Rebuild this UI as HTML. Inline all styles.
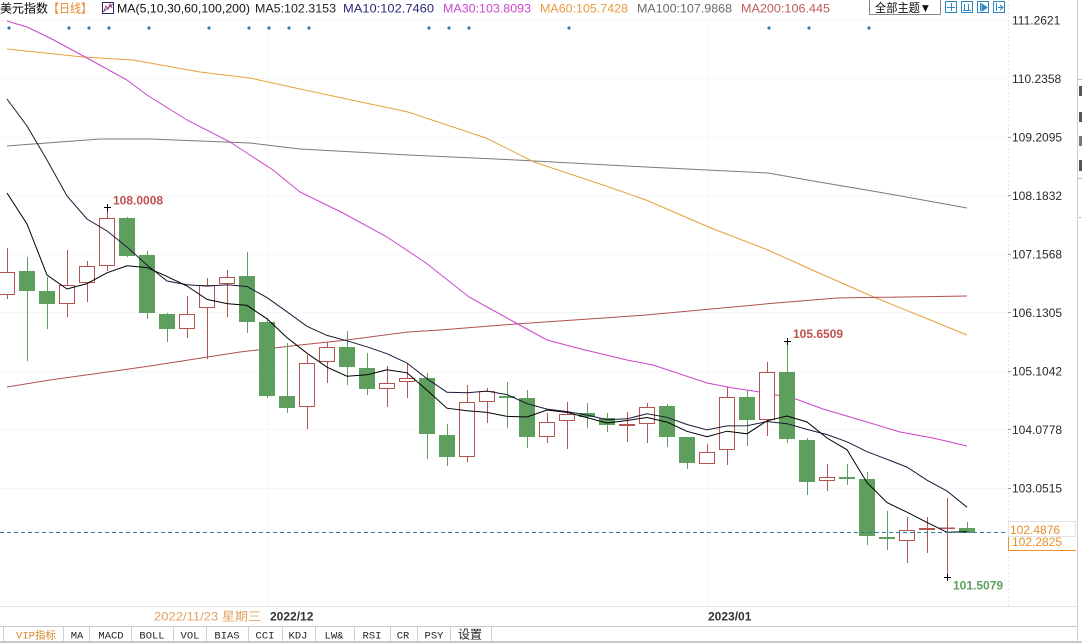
<!DOCTYPE html>
<html><head><meta charset="utf-8"><style>
html,body{margin:0;padding:0;background:#fff;}
#c{position:relative;width:1082px;height:643px;overflow:hidden;background:#fff;}
svg{position:absolute;left:0;top:0;}
.t{font-family:"Liberation Sans","Noto Sans CJK SC",sans-serif;font-size:12px;}
.tb{font-family:"Liberation Mono","Noto Sans CJK SC",monospace;font-size:10.5px;fill:#222;}
.u{fill:#fff;stroke:#b4544e;stroke-width:1;}
.d{fill:#5e9f5e;}
.wr{fill:#b4544e;}
.wg{fill:#5e9f5e;}
</style></head><body><div id="c">
<svg width="1082" height="643" viewBox="0 0 1082 643" xmlns="http://www.w3.org/2000/svg">
<!-- faint grid -->
<g stroke="#f6f6f6" stroke-width="1" shape-rendering="crispEdges">
<line x1="0" y1="20.5" x2="1008" y2="20.5"/><line x1="0" y1="78.5" x2="1008" y2="78.5"/>
<line x1="0" y1="137.5" x2="1008" y2="137.5"/><line x1="0" y1="195.5" x2="1008" y2="195.5"/>
<line x1="0" y1="254.5" x2="1008" y2="254.5"/><line x1="0" y1="312.5" x2="1008" y2="312.5"/>
<line x1="0" y1="371.5" x2="1008" y2="371.5"/><line x1="0" y1="429.5" x2="1008" y2="429.5"/>
<line x1="0" y1="488.5" x2="1008" y2="488.5"/>
<line x1="267.5" y1="20" x2="267.5" y2="607"/><line x1="707.5" y1="20" x2="707.5" y2="607"/>
</g>
<line x1="1008.5" y1="0" x2="1008.5" y2="607" stroke="#e6e6e6" stroke-dasharray="2,2"/>
<line x1="1077.5" y1="0" x2="1077.5" y2="643" stroke="#cfcfcf"/>

<!-- header -->
<text class="t" x="0" y="12.5" fill="#000" textLength="48" lengthAdjust="spacingAndGlyphs">美元指数</text>
<text class="t" x="48" y="12.5" fill="#e08a2e" textLength="44" lengthAdjust="spacingAndGlyphs">【日线】</text>
<rect x="102.5" y="2.5" width="11" height="11" fill="#fff" stroke="#2a2a6a"/>
<polyline points="104,11 106,6 108,9 110,4 112,8" fill="none" stroke="#c04070" stroke-width="1"/>
<line x1="103" y1="12" x2="113" y2="4" stroke="#2a2a6a" stroke-width="0.8"/>
<text class="t" x="117" y="12.5" fill="#111" textLength="133" lengthAdjust="spacingAndGlyphs">MA(5,10,30,60,100,200)</text>
<text class="t" x="255" y="12.5" fill="#222" textLength="81" lengthAdjust="spacingAndGlyphs">MA5:102.3153</text>
<text class="t" x="343" y="12.5" fill="#2a2a80" textLength="91" lengthAdjust="spacingAndGlyphs">MA10:102.7460</text>
<text class="t" x="443" y="12.5" fill="#cc44cc" textLength="88" lengthAdjust="spacingAndGlyphs">MA30:103.8093</text>
<text class="t" x="540" y="12.5" fill="#e89a3c" textLength="88" lengthAdjust="spacingAndGlyphs">MA60:105.7428</text>
<text class="t" x="637" y="12.5" fill="#6a6a6a" textLength="95" lengthAdjust="spacingAndGlyphs">MA100:107.9868</text>
<text class="t" x="741" y="12.5" fill="#c05a5a" textLength="89" lengthAdjust="spacingAndGlyphs">MA200:106.445</text>
<rect x="869.5" y="-0.5" width="71" height="15" fill="#fff" stroke="#8a8a8a"/>
<text class="t" x="875" y="12" fill="#111" textLength="56" lengthAdjust="spacingAndGlyphs">全部主题▼</text>
<g fill="#fff" stroke="#2e86c1" stroke-width="1" shape-rendering="crispEdges">
<rect x="945.5" y="1.5" width="11" height="11"/><rect x="961.5" y="1.5" width="11" height="11"/>
<rect x="977.5" y="1.5" width="11" height="11"/><rect x="993.5" y="1.5" width="11" height="11"/>
</g>
<g stroke="#2e86c1" stroke-width="1" fill="none" shape-rendering="crispEdges">
<line x1="951.5" y1="3" x2="951.5" y2="11"/><line x1="947" y1="7.5" x2="955" y2="7.5"/>
<line x1="964.5" y1="4" x2="964.5" y2="11"/><line x1="968.5" y1="4" x2="968.5" y2="11"/><line x1="963" y1="10.5" x2="971" y2="10.5"/>
<line x1="980.5" y1="3" x2="980.5" y2="11"/><polygon points="982,4 987,7.5 982,11" fill="#2e86c1"/>
<line x1="996.5" y1="3" x2="996.5" y2="11"/><line x1="998" y1="7.5" x2="1003" y2="7.5"/><polyline points="1000,5 1003,7.5 1000,10"/>
</g>
<!-- dots -->
<g fill="#3a7a9a">
<circle cx="9" cy="28" r="1.6"/><circle cx="69" cy="28" r="1.6"/><circle cx="89" cy="28" r="1.6"/><circle cx="109" cy="28" r="1.6"/>
<circle cx="149" cy="28" r="1.6"/><circle cx="209" cy="28" r="1.6"/><circle cx="249" cy="28" r="1.6"/><circle cx="269" cy="28" r="1.6"/>
<circle cx="289" cy="28" r="1.6"/><circle cx="309" cy="28" r="1.6"/><circle cx="429" cy="28" r="1.6"/><circle cx="449" cy="28" r="1.6"/>
<circle cx="469" cy="28" r="1.6"/><circle cx="569" cy="28" r="1.6"/><circle cx="769" cy="28" r="1.6"/><circle cx="809" cy="28" r="1.6"/>
<circle cx="869" cy="28" r="1.6"/>
</g>

<!-- long MAs -->
<g fill="none" stroke-width="1">
<polyline stroke="#7a7a7a" points="7,146 33,144 100,139 150,139 200,141 250,143 300,149 408,155 516,160 646,167 768,173 819,182 884,193 967,208"/>
<polyline stroke="#e8a03c" points="7,49 83,57 133,60 200,72 250,78 300,89 408,112 486,138 534,162 603,185 646,200 711,228 768,250 819,273 876,298 923,317 967,335"/>
<polyline stroke="#b05050" points="7,387 50,380 150,366 240,352 300,345 347,340 408,332 440,330 516,324 646,315 776,303 837,298 967,296"/>
<polyline stroke="#cc44cc" points="7,21 27,27 50,38 87,58 127,80 147,95 187,120 230,142 253,157 273,170 300,192 343,213 387,237 426,263 469,297 516,323 547,340 581,349 627,360 653,365 707,383 733,388 760,392 793,398 823,409 867,422 900,432 933,438 967,446"/>
</g>

<!-- wicks -->
<g shape-rendering="crispEdges">
<rect class="wr" x="7" y="248" width="1" height="51"/><rect class="wg" x="27" y="257" width="1" height="104"/>
<rect class="wg" x="47" y="277" width="1" height="52"/><rect class="wr" x="67" y="250" width="1" height="67"/>
<rect class="wr" x="87" y="261" width="1" height="41"/><rect class="wr" x="107" y="207" width="1" height="64"/>
<rect class="wg" x="127" y="217" width="1" height="40"/><rect class="wg" x="147" y="251" width="1" height="68"/>
<rect class="wg" x="167" y="313" width="1" height="29"/><rect class="wr" x="187" y="296" width="1" height="42"/>
<rect class="wr" x="207" y="278" width="1" height="81"/><rect class="wr" x="227" y="270" width="1" height="47"/>
<rect class="wg" x="247" y="252" width="1" height="81"/><rect class="wg" x="267" y="318" width="1" height="80"/>
<rect class="wg" x="287" y="343" width="1" height="70"/><rect class="wr" x="307" y="355" width="1" height="74"/>
<rect class="wr" x="327" y="342" width="1" height="41"/><rect class="wg" x="347" y="331" width="1" height="54"/>
<rect class="wg" x="367" y="353" width="1" height="42"/><rect class="wr" x="387" y="366" width="1" height="41"/>
<rect class="wr" x="407" y="363" width="1" height="35"/><rect class="wg" x="427" y="373" width="1" height="86"/>
<rect class="wg" x="447" y="424" width="1" height="42"/><rect class="wr" x="467" y="385" width="1" height="77"/>
<rect class="wr" x="487" y="388" width="1" height="35"/><rect class="wg" x="507" y="382" width="1" height="46"/>
<rect class="wg" x="527" y="390" width="1" height="58"/><rect class="wr" x="547" y="413" width="1" height="30"/>
<rect class="wr" x="567" y="402" width="1" height="47"/><rect class="wg" x="587" y="403" width="1" height="25"/>
<rect class="wg" x="607" y="413" width="1" height="19"/><rect class="wr" x="627" y="412" width="1" height="30"/>
<rect class="wr" x="647" y="403" width="1" height="40"/><rect class="wg" x="667" y="404" width="1" height="43"/>
<rect class="wg" x="687" y="437" width="1" height="32"/><rect class="wr" x="707" y="444" width="1" height="20"/>
<rect class="wr" x="727" y="387" width="1" height="78"/><rect class="wg" x="747" y="390" width="1" height="56"/>
<rect class="wr" x="767" y="362" width="1" height="74"/><rect class="wg" x="787" y="341" width="1" height="102"/>
<rect class="wg" x="807" y="438" width="1" height="57"/><rect class="wr" x="827" y="464" width="1" height="27"/>
<rect class="wg" x="847" y="464" width="1" height="21"/><rect class="wg" x="867" y="472" width="1" height="73"/>
<rect class="wg" x="887" y="511" width="1" height="39"/><rect class="wr" x="907" y="517" width="1" height="46"/>
<rect class="wr" x="927" y="517" width="1" height="36"/><rect class="wr" x="947" y="498" width="1" height="79"/>
<rect class="wg" x="967" y="522" width="1" height="11"/>
</g>
<!-- bodies -->
<g shape-rendering="crispEdges">
<rect class="u" x="-0.5" y="272.5" width="15" height="22"/>
<rect class="d" x="19" y="271" width="16" height="20"/>
<rect class="d" x="39" y="291" width="16" height="13"/>
<rect class="u" x="59.5" y="285.5" width="15" height="18"/>
<rect class="u" x="79.5" y="266.5" width="15" height="16"/>
<rect class="u" x="99.5" y="218.5" width="15" height="47"/>
<rect class="d" x="119" y="218" width="16" height="38"/>
<rect class="d" x="139" y="255" width="16" height="58"/>
<rect class="d" x="159" y="314" width="16" height="15"/>
<rect class="u" x="179.5" y="314.5" width="15" height="14"/>
<rect class="u" x="199.5" y="285.5" width="15" height="22"/>
<rect class="u" x="219.5" y="277.5" width="15" height="6"/>
<rect class="d" x="239" y="276" width="16" height="46"/>
<rect class="d" x="259" y="322" width="16" height="74"/>
<rect class="d" x="279" y="396" width="16" height="12"/>
<rect class="u" x="299.5" y="363.5" width="15" height="43"/>
<rect class="u" x="319.5" y="347.5" width="15" height="14"/>
<rect class="d" x="339" y="347" width="16" height="20"/>
<rect class="d" x="359" y="368" width="16" height="21"/>
<rect class="u" x="379.5" y="383.5" width="15" height="5"/>
<rect class="u" x="399.5" y="378.5" width="15" height="3"/>
<rect class="d" x="419" y="378" width="16" height="56"/>
<rect class="d" x="439" y="435" width="16" height="22"/>
<rect class="u" x="459.5" y="402.5" width="15" height="54"/>
<rect class="u" x="479.5" y="391.5" width="15" height="10"/>
<rect class="d" x="499" y="396" width="16" height="2"/>
<rect class="d" x="519" y="398" width="16" height="39"/>
<rect class="u" x="539.5" y="422.5" width="15" height="14"/>
<rect class="u" x="559.5" y="414.5" width="15" height="6"/>
<rect class="d" x="579" y="413" width="16" height="4"/>
<rect class="d" x="599" y="418" width="16" height="7"/>
<rect class="u" x="619.5" y="424.5" width="15" height="1"/>
<rect class="u" x="639.5" y="407.5" width="15" height="16"/>
<rect class="d" x="659" y="406" width="16" height="31"/>
<rect class="d" x="679" y="437" width="16" height="26"/>
<rect class="u" x="699.5" y="452.5" width="15" height="11"/>
<rect class="u" x="719.5" y="397.5" width="15" height="52"/>
<rect class="d" x="739" y="397" width="16" height="23"/>
<rect class="u" x="759.5" y="372.5" width="15" height="47"/>
<rect class="d" x="779" y="372" width="16" height="67"/>
<rect class="d" x="799" y="440" width="16" height="42"/>
<rect class="u" x="819.5" y="477.5" width="15" height="3"/>
<rect class="d" x="839" y="477" width="16" height="2"/>
<rect class="d" x="859" y="479" width="16" height="57"/>
<rect class="d" x="879" y="537" width="16" height="2"/>
<rect class="u" x="899.5" y="530.5" width="15" height="10"/>
<rect class="wr" x="919" y="528" width="16" height="2"/>
<rect class="wr" x="939" y="527.5" width="16" height="1.5"/>
<rect class="d" x="959" y="528" width="16" height="5"/>
</g>

<!-- MA5 / MA10 -->
<g fill="none" stroke-width="1">
<polyline stroke="#1a1a3a" points="7,99 27,126 47,160 67,196 87,219 107,231 127,247 147,265 167,281 187,284.8 207,286.1 227,284.7 247,286.5 267,297.6 287,311.8 307,326.3 327,335.4 347,340.8 367,346.8 387,353.7 407,363 427,378.7 447,392.2 467,392.8 487,391.1 507,394.6 527,403.6 547,409.1 567,411.6 587,415 607,419.7 627,418.8 647,413.8 667,417.3 687,424.5 707,429.9 727,425.9 747,425.7 767,421.5 787,423.7 807,429.4 827,434.6 847,441.8 867,451.7 887,459.3 907,467.1 927,480.2 947,491.1 967,507.2"/>
<polyline stroke="#000" points="7,193 27,224 47,275 67,289 87,283.6 107,272.8 127,265.8 147,267.6 167,276.4 187,286 207,299.4 227,303.6 247,305.4 267,318.8 287,337.6 307,353.2 327,367.2 347,376.2 367,374.8 387,369.8 407,372.8 427,390.2 447,408.2 467,410.8 487,412.4 507,416.4 527,417 547,410 567,412.4 587,417.6 607,423 627,420.5 647,417.5 667,422.1 687,431.3 707,436.7 727,431.2 747,433.8 767,420.8 787,416 807,422 827,438 847,449.8 867,482.6 887,502.6 907,512.2 927,522.4 947,532.3 967,531.7"/>
</g>

<!-- current price line -->
<line x1="0" y1="532.5" x2="1008" y2="532.5" stroke="#2e7fa6" stroke-width="1" stroke-dasharray="4,3"/>

<!-- markers -->
<g fill="#000" shape-rendering="crispEdges">
<rect x="104" y="207" width="7" height="1"/><rect x="107" y="204" width="1" height="7"/>
<rect x="784" y="341" width="7" height="1"/><rect x="787" y="338" width="1" height="7"/>
<rect x="944" y="577" width="7" height="1"/><rect x="947" y="574" width="1" height="7"/>
</g>
<text class="t" x="113" y="204.5" fill="#c0504d" font-weight="bold">108.0008</text>
<text class="t" x="793" y="338" fill="#c0504d" font-weight="bold">105.6509</text>
<text class="t" x="953" y="589.5" fill="#5e9f5e" font-weight="bold">101.5079</text>

<!-- right axis -->
<g stroke="#999" shape-rendering="crispEdges">
<line x1="1008" y1="137.5" x2="1011" y2="137.5"/><line x1="1008" y1="195.5" x2="1011" y2="195.5"/>
<line x1="1008" y1="254.5" x2="1011" y2="254.5"/><line x1="1008" y1="312.5" x2="1011" y2="312.5"/>
<line x1="1008" y1="371.5" x2="1011" y2="371.5"/><line x1="1008" y1="429.5" x2="1011" y2="429.5"/>
<line x1="1008" y1="488.5" x2="1011" y2="488.5"/>
</g>
<g class="t" fill="#2a2a2a">
<text class="t" x="1012" y="24.5">111.2621</text>
<text class="t" x="1012" y="83">110.2358</text>
<text class="t" x="1012" y="141.5">109.2095</text>
<text class="t" x="1012" y="200">108.1832</text>
<text class="t" x="1012" y="258.5">107.1568</text>
<text class="t" x="1012" y="317">106.1305</text>
<text class="t" x="1012" y="375.5">105.1042</text>
<text class="t" x="1012" y="434">104.0778</text>
<text class="t" x="1012" y="492.5">103.0515</text>
</g>
<svg x="1008" y="537" width="70" height="15" overflow="hidden">
<text class="t" x="4" y="9" fill="#e8902a">102.2825</text>
</svg>
<g shape-rendering="crispEdges">
<line x1="1008.5" y1="536" x2="1008.5" y2="551" stroke="#e8902a"/>
<line x1="1008" y1="550.5" x2="1076" y2="550.5" stroke="#e8902a"/>
<rect x="1008.5" y="521.5" width="67" height="15" fill="#fff" stroke="#e2e2e2"/>
</g>
<text class="t" x="1010" y="534" fill="#e8902a">102.4876</text>

<!-- right panel fragments -->
<g shape-rendering="crispEdges">
<line x1="1078" y1="79.5" x2="1082" y2="79.5" stroke="#bbb"/>
<line x1="1078" y1="178.5" x2="1082" y2="178.5" stroke="#bbb"/>
<rect x="1079" y="86" width="3" height="10" fill="#555"/>
<rect x="1079" y="112" width="3" height="10" fill="#555"/>
<rect x="1079" y="136" width="3" height="10" fill="#777"/>
<rect x="1079" y="160" width="3" height="11" fill="#555"/>
<rect x="1079" y="217" width="2" height="1" fill="#e8a040"/>
</g>

<!-- bottom date row -->
<line x1="0" y1="606.5" x2="1077" y2="606.5" stroke="#e3e3e3"/>
<text class="t" x="154" y="620.5" fill="#e4a060" textLength="107" lengthAdjust="spacingAndGlyphs">2022/11/23 星期三</text>
<text class="t" x="270" y="620.5" fill="#333" font-weight="bold">2022/12</text>
<text class="t" x="708" y="620.5" fill="#333" font-weight="bold">2023/01</text>

<!-- tab bar -->
<line x1="0" y1="626.5" x2="1077" y2="626.5" stroke="#c8c8c8"/>
<rect x="0" y="641" width="1082" height="2" fill="#c8c8c8"/>
<g stroke="#cfcfcf" shape-rendering="crispEdges">
<line x1="3.5" y1="627" x2="3.5" y2="641"/><line x1="63.5" y1="627" x2="63.5" y2="641"/>
<line x1="89.5" y1="627" x2="89.5" y2="641"/><line x1="131.5" y1="627" x2="131.5" y2="641"/>
<line x1="173.5" y1="627" x2="173.5" y2="641"/><line x1="206.5" y1="627" x2="206.5" y2="641"/>
<line x1="248.5" y1="627" x2="248.5" y2="641"/><line x1="282.5" y1="627" x2="282.5" y2="641"/>
<line x1="315.5" y1="627" x2="315.5" y2="641"/><line x1="354.5" y1="627" x2="354.5" y2="641"/>
<line x1="390.5" y1="627" x2="390.5" y2="641"/><line x1="417.5" y1="627" x2="417.5" y2="641"/>
<line x1="450.5" y1="627" x2="450.5" y2="641"/><line x1="491.5" y1="627" x2="491.5" y2="641"/>
</g>
<g text-anchor="middle">
<text class="tb" x="36" y="638.5" fill="#d4892a" style="fill:#d4892a">VIP指标</text>
<text class="tb" x="77" y="638.5">MA</text>
<text class="tb" x="111" y="638.5">MACD</text>
<text class="tb" x="152" y="638.5">BOLL</text>
<text class="tb" x="190" y="638.5">VOL</text>
<text class="tb" x="227" y="638.5">BIAS</text>
<text class="tb" x="265" y="638.5">CCI</text>
<text class="tb" x="298" y="638.5">KDJ</text>
<text class="tb" x="334" y="638.5">LW&amp;</text>
<text class="tb" x="372" y="638.5">RSI</text>
<text class="tb" x="403" y="638.5">CR</text>
<text class="tb" x="434" y="638.5">PSY</text>
<text class="tb" x="470" y="638.5" style="font-size:12px">设置</text>
</g>
</svg>
</div></body></html>
